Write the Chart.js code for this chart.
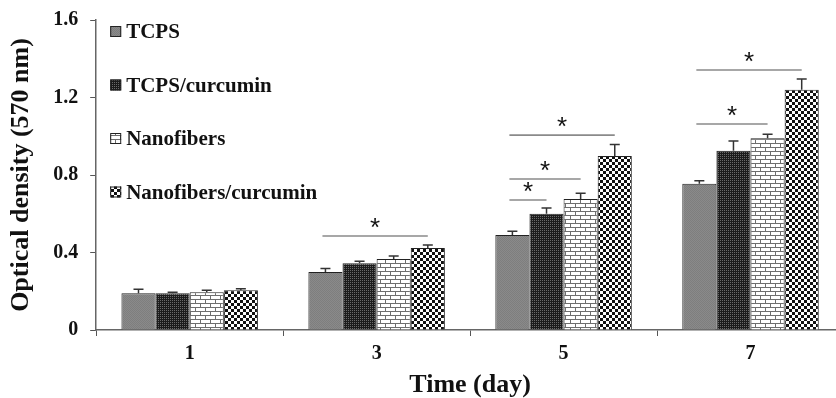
<!DOCTYPE html>
<html>
<head>
<meta charset="utf-8">
<script src="https://cdn.jsdelivr.net/npm/chart.js@4/dist/chart.umd.min.js"></script>
<style>
  html, body { margin: 0; padding: 0; background: #fff; overflow: hidden; }
  #wrap { width: 848px; height: 398px; position: relative; }
</style>
</head>
<body>
<div id="wrap"><canvas id="odChart"></canvas></div>
<script>
const days = ['1', '3', '5', '7'];
const seriesNames = ['TCPS', 'TCPS/curcumin', 'Nanofibers', 'Nanofibers/curcumin'];

const tcps = [0.19, 0.30, 0.49, 0.755];
const tcpsErr = [0.02, 0.017, 0.02, 0.015];
const tcpsCur = [0.19, 0.345, 0.60, 0.925];
const tcpsCurErr = [0.005, 0.01, 0.03, 0.05];
const nano = [0.195, 0.367, 0.676, 0.99];
const nanoErr = [0.01, 0.015, 0.03, 0.02];
const nanoCur = [0.205, 0.423, 0.898, 1.24];
const nanoCurErr = [0.008, 0.016, 0.06, 0.055];

const yTickLabels = ['0', '0.4', '0.8', '1.2', '1.6'];

// significance brackets: day index, from series, to series, height (OD)
const sigDay = [1, 2, 2, 2, 3, 3];
const sigFrom = [0, 0, 0, 0, 0, 0];
const sigTo = [3, 1, 2, 3, 2, 3];
const sigLevel = [0.485, 0.671, 0.779, 1.006, 1.063, 1.342];

function makePattern(w, h, draw) {
    const c = document.createElement('canvas');
    c.width = w; c.height = h;
    const ctx = c.getContext('2d');
    draw(ctx);
    return document.getElementById('odChart').getContext('2d').createPattern(c, 'repeat');
}

const fillTcps = makePattern(2, 2, (g) => {
    g.fillStyle = '#8a8a8a'; g.fillRect(0, 0, 2, 2);
    g.fillStyle = '#7e7e7e'; g.fillRect(0, 0, 1, 1); g.fillRect(1, 1, 1, 1);
});
const fillTcpsCur = makePattern(2, 2, (g) => {
    g.fillStyle = '#1c1c1c'; g.fillRect(0, 0, 2, 2);
    g.fillStyle = '#6a6a6a'; g.fillRect(0, 0, 1, 1);
});
const fillNano = makePattern(10, 8, (g) => {
    g.fillStyle = '#ffffff'; g.fillRect(0, 0, 10, 8);
    g.fillStyle = '#6e6e6e';
    g.fillRect(0, 3, 10, 1); g.fillRect(0, 7, 10, 1);
    g.fillRect(0, 0, 1, 3); g.fillRect(5, 4, 1, 3);
});
const fillNanoCur = makePattern(6, 6, (g) => {
    g.fillStyle = '#ffffff'; g.fillRect(0, 0, 6, 6);
    g.fillStyle = '#111111';
    g.fillRect(0, 0, 3, 3); g.fillRect(3, 3, 3, 3);
});

const serif = '"Liberation Serif", "Times New Roman", serif';

const errorBars = {
    id: 'errorBars',
    afterDatasetsDraw(chart) {
        const { ctx } = chart;
        const y = chart.scales.y;
        ctx.save();
        ctx.strokeStyle = '#333';
        ctx.lineWidth = 1.5;
        chart.data.datasets.forEach((ds, i) => {
            chart.getDatasetMeta(i).data.forEach((bar, j) => {
                const top = y.getPixelForValue(ds.data[j] + ds.err[j]);
                ctx.beginPath();
                ctx.moveTo(bar.x, bar.y);
                ctx.lineTo(bar.x, top);
                ctx.moveTo(bar.x - 5, top);
                ctx.lineTo(bar.x + 5, top);
                ctx.stroke();
            });
        });
        ctx.restore();
    }
};

const significance = {
    id: 'significance',
    afterDatasetsDraw(chart) {
        const { ctx } = chart;
        const y = chart.scales.y;
        ctx.save();
        ctx.strokeStyle = '#8a8a8a';
        ctx.lineWidth = 1.6;
        ctx.fillStyle = '#111';
        ctx.font = '26px "Liberation Sans", Arial, sans-serif';
        ctx.textAlign = 'center';
        ctx.textBaseline = 'middle';
        sigDay.forEach((d, k) => {
            const x1 = chart.getDatasetMeta(sigFrom[k]).data[d].x - 3;
            const x2 = chart.getDatasetMeta(sigTo[k]).data[d].x;
            const py = y.getPixelForValue(sigLevel[k]);
            ctx.beginPath();
            ctx.moveTo(x1, py);
            ctx.lineTo(x2, py);
            ctx.stroke();
            ctx.fillText('*', (x1 + x2) / 2, py - 7);
        });
        ctx.restore();
    }
};

const sideLegend = {
    id: 'sideLegend',
    afterDraw(chart) {
        const { ctx, chartArea } = chart;
        ctx.save();
        ctx.font = 'bold 21px ' + serif;
        ctx.textBaseline = 'middle';
        ctx.textAlign = 'left';
        chart.data.datasets.forEach((ds, i) => {
            const cy = 32 + i * 53.5;
            const bx = chartArea.left + 14;
            ctx.fillStyle = ds.backgroundColor;
            ctx.fillRect(bx, cy - 6, 11, 11);
            ctx.strokeStyle = '#222';
            ctx.lineWidth = 1;
            ctx.strokeRect(bx + 0.5, cy - 5.5, 10, 10);
            ctx.fillStyle = '#111';
            ctx.fillText(ds.label, bx + 16, cy + 1);
        });
        ctx.restore();
    }
};

const datasets = [
    { label: seriesNames[0], data: tcps, err: tcpsErr, backgroundColor: fillTcps },
    { label: seriesNames[1], data: tcpsCur, err: tcpsCurErr, backgroundColor: fillTcpsCur },
    { label: seriesNames[2], data: nano, err: nanoErr, backgroundColor: fillNano },
    { label: seriesNames[3], data: nanoCur, err: nanoCurErr, backgroundColor: fillNanoCur },
].map((d) => ({ ...d, borderColor: '#222', borderWidth: 1, categoryPercentage: 0.73, barPercentage: 1 }));

new Chart(document.getElementById('odChart'), {
    type: 'bar',
    data: { labels: days, datasets },
    options: {
        responsive: true,
        maintainAspectRatio: false,
        animation: false,
        layout: { padding: { left: 6, top: 0, right: 4, bottom: 0 } },
        plugins: {
            legend: { display: false },
            tooltip: { enabled: false },
        },
        scales: {
            x: {
                grid: { drawOnChartArea: false, drawTicks: true, tickLength: 6, color: '#555', offset: true },
                border: { color: '#666', width: 1.5 },
                ticks: { color: '#111', font: { family: serif, size: 20, weight: 'bold', lineHeight: 1 }, padding: 8 },
                title: { display: true, text: 'Time (day)', color: '#111', font: { family: serif, size: 26, weight: 'bold', lineHeight: 1 }, padding: { top: 0, bottom: 0 } },
            },
            y: {
                min: 0,
                max: 1.6,
                ticks: {
                    stepSize: 0.4,
                    color: '#111',
                    font: { family: serif, size: 20, weight: 'bold', lineHeight: 0.8 },
                    padding: 12,
                    callback: (v, i) => yTickLabels[i],
                },
                grid: { drawOnChartArea: false, tickLength: 6, color: '#555' },
                border: { color: '#666', width: 1.5 },
                title: { display: true, text: 'Optical density (570 nm)', color: '#111', font: { family: serif, size: 26, weight: 'bold' }, padding: { top: 0, bottom: 4 } },
            },
        },
    },
    plugins: [errorBars, significance, sideLegend],
});
</script>
</body>
</html>
